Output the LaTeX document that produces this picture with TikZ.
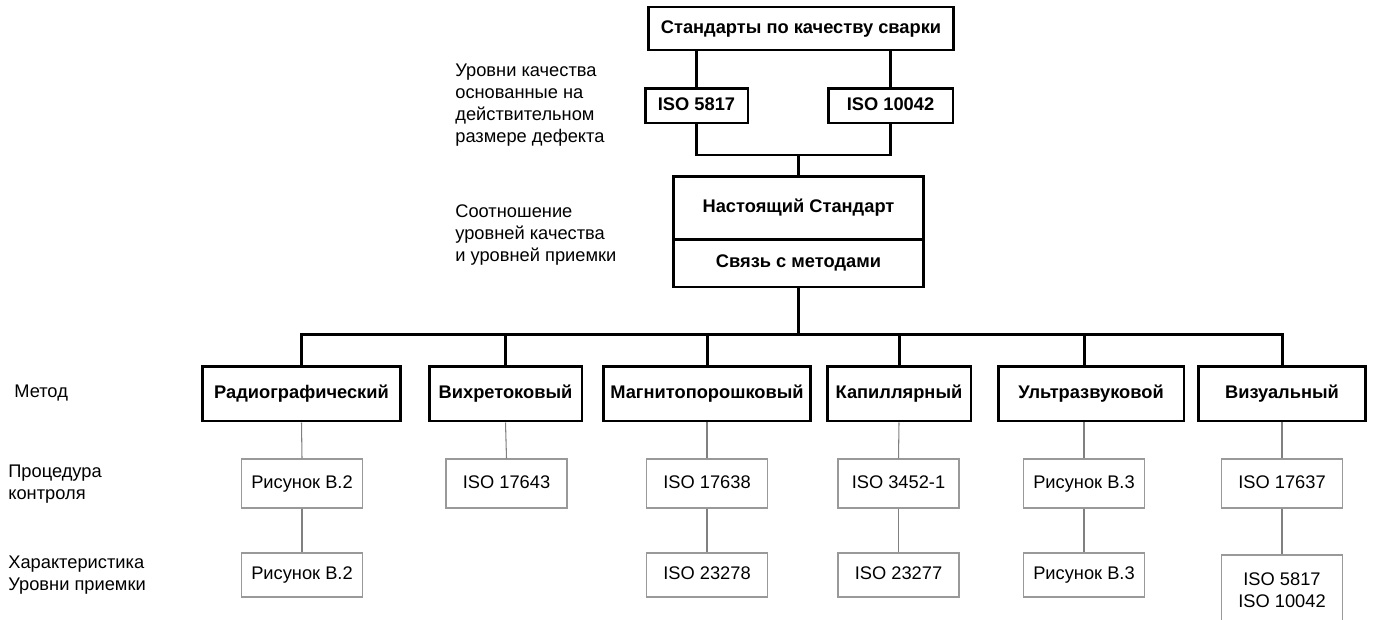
\documentclass[tikz,border=0pt]{standalone}
\usepackage{fontspec}
\setmainfont{Liberation Sans}
\usepackage{tikz}

\tikzset{
    txt/.style={font=\fontsize{10.4}{12.5}\selectfont},
    oneline/.style={text height=7.6pt, text depth=2.2pt},
    bbox/.style={txt, oneline, draw, line width=1.7pt, inner sep=0pt, font=\fontsize{10.4}{12.5}\selectfont\bfseries},
    tbox/.style={txt, draw=black!40, line width=0.6pt, inner sep=0pt, minimum width=2.42cm, align=center},
    lbl/.style={txt, inner sep=0pt, anchor=west, align=left},
    thk/.style={line width=1.7pt},
    thn/.style={line width=0.6pt, black!50}
}

\begin{document}
\begin{tikzpicture}[x=0.02cm, y=-0.02cm]
    \useasboundingbox (0,0) rectangle (1375,619);

    \node[bbox, minimum width=6.12cm, minimum height=0.86cm] (top) at (801,28.5) {Стандарты по качеству сварки};
    \node[bbox, minimum width=2.06cm, minimum height=0.7cm] (iso5817) at (696.5,105.5) {ISO 5817};
    \node[bbox, minimum width=2.5cm, minimum height=0.7cm] (iso10042) at (890.5,105.5) {ISO 10042};
    \node[bbox, minimum width=5.02cm, minimum height=1.26cm] (cur) at (798.5,207.5) {Настоящий Стандарт};
    \node[bbox, minimum width=5.02cm, minimum height=0.96cm] (links) at (798.5,263) {Связь с методами};

    \node[bbox, minimum width=3.98cm, minimum height=1.1cm] (radio) at (301.5,393.5) {Радиографический};
    \node[bbox, minimum width=3.06cm, minimum height=1.1cm] (eddy) at (505.5,393.5) {Вихретоковый};
    \node[bbox, minimum width=4.16cm, minimum height=1.1cm] (mag) at (707,393.5) {Магнитопорошковый};
    \node[bbox, minimum width=2.88cm, minimum height=1.1cm] (cap) at (899,393.5) {Капиллярный};
    \node[bbox, minimum width=3.72cm, minimum height=1.1cm] (ultra) at (1091,393.5) {Ультразвуковой};
    \node[bbox, minimum width=3.34cm, minimum height=1.1cm] (vis) at (1282,393.5) {Визуальный};

    \node[tbox, oneline, minimum height=0.98cm] (rb2a) at (302,483.5) {Рисунок В.2};
    \node[tbox, oneline, minimum height=0.98cm] (iso17643) at (506.5,483.5) {ISO 17643};
    \node[tbox, oneline, minimum height=0.98cm] (iso17638) at (707,483.5) {ISO 17638};
    \node[tbox, oneline, minimum height=0.98cm] (iso3452) at (898.5,483.5) {ISO 3452-1};
    \node[tbox, oneline, minimum height=0.98cm] (rb3a) at (1084,483.5) {Рисунок В.3};
    \node[tbox, oneline, minimum height=0.98cm] (iso17637) at (1282,483.5) {ISO 17637};

    \node[tbox, oneline, minimum height=0.88cm] (rb2b) at (302,575) {Рисунок В.2};
    \node[tbox, oneline, minimum height=0.88cm] (iso23278) at (707,575) {ISO 23278};
    \node[tbox, oneline, minimum height=0.88cm] (iso23277) at (898.5,575) {ISO 23277};
    \node[tbox, oneline, minimum height=0.88cm] (rb3b) at (1084,575) {Рисунок В.3};
    \node[tbox, minimum height=1.4cm] (isoboth) at (1282,590) {ISO 5817\\ISO 10042};

    \node[lbl] (lqual) at (455,105.5) {Уровни качества\\основанные на\\действительном\\размере дефекта};
    \node[lbl] (lrel) at (455,235) {Соотношение\\уровней качества\\и уровней приемки};
    \node[lbl] (lmeth) at (14,393) {Метод};
    \node[lbl] (lproc) at (8,484) {Процедура\\контроля};
    \node[lbl] (lchar) at (8,575) {Характеристика\\Уровни приемки};

    \coordinate (join) at (798.5,155);
    \coordinate (bus) at (798.5,334);

    \draw[thk] (iso5817.north) -- (iso5817.north |- top.south);
    \draw[thk] (iso10042.north) -- (iso10042.north |- top.south);
    \draw[thk] (iso5817.south) |- (join) -| (iso10042.south);
    \draw[thk] (join) -- (cur.north);
    \draw[thk] (links.south) -- (bus);
    \draw[thk] (radio.north) -- (radio.north |- bus) -- (vis.north |- bus) -- (vis.north);
    \foreach \m in {eddy, mag, cap}
        \draw[thk] (\m.north) -- (\m.north |- bus);
    \draw[thk] (rb3a.north |- ultra.north) -- (rb3a.north |- bus);

    \draw[thn] (radio.south) -- (rb2a.north);
    \draw[thn] (eddy.south) -- (iso17643.north);
    \draw[thn] (mag.south) -- (iso17638.north);
    \draw[thn] (cap.south) -- (iso3452.north);
    \draw[thn] (rb3a.north |- ultra.south) -- (rb3a.north);
    \draw[thn] (vis.south) -- (iso17637.north);
    \draw[thn] (rb2a.south) -- (rb2b.north);
    \draw[thn] (iso17638.south) -- (iso23278.north);
    \draw[thn] (iso3452.south) -- (iso23277.north);
    \draw[thn] (rb3a.south) -- (rb3b.north);
    \draw[thn] (iso17637.south) -- (isoboth.north);
\end{tikzpicture}
\end{document}
